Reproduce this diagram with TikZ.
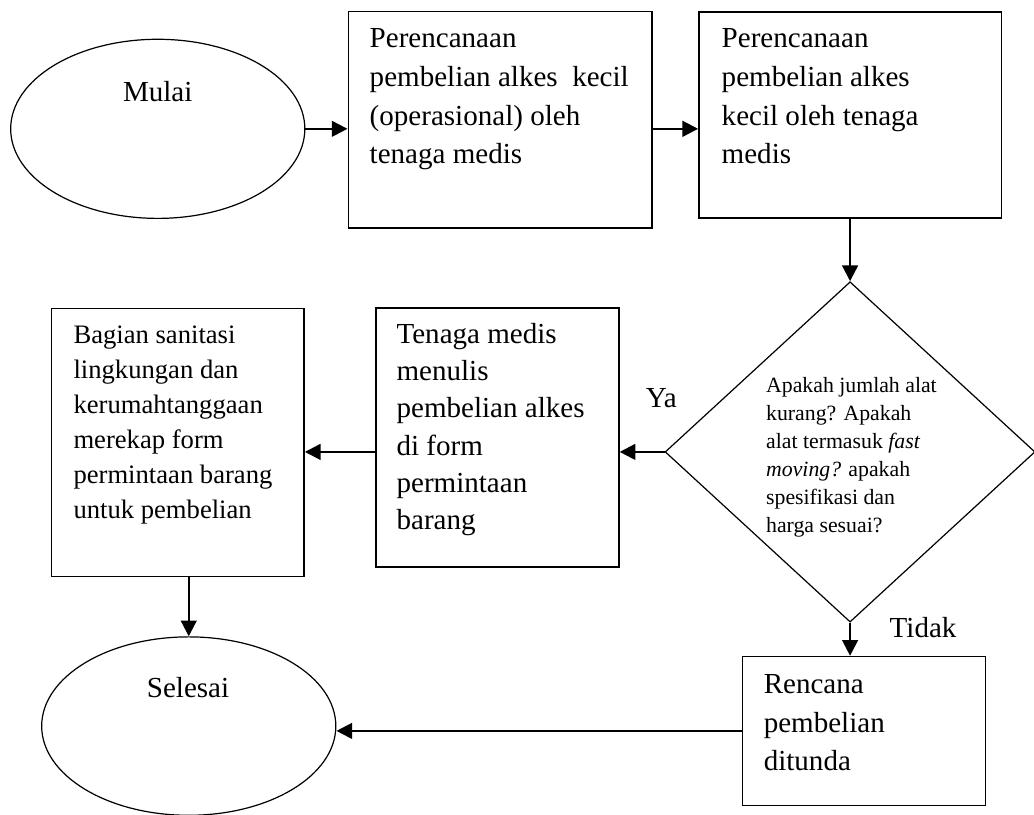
\documentclass[tikz,border=0pt]{standalone}
\usepackage{fontspec}
\setmainfont{Liberation Serif}
\usepackage{tikz}
\usetikzlibrary{shapes.geometric,arrows.meta}

\begin{document}
\begin{tikzpicture}[
            box/.style={draw,line width=0.6pt,rectangle,inner sep=0pt},
            oval/.style={draw,line width=0.5pt,ellipse,inner sep=0pt},
            ask/.style={draw,line width=0.5pt,diamond,inner sep=0pt},
            txt/.style={anchor=base west,align=left,inner sep=0pt,font=\fontsize{12}{16}\selectfont},
            asktxt/.style={align=left,inner sep=0pt,font=\fontsize{9}{11.6}\selectfont},
            lbl/.style={anchor=base,inner sep=0pt,font=\fontsize{12}{14}\selectfont},
            arr/.style={line width=0.9pt,-{Triangle[length=6.5pt,width=6.5pt]}}]
            \useasboundingbox (0,0) rectangle (15.01,-11.82);
            % baris atas (teks: base = baris terakhir)
            \node[oval,minimum width=4.27cm,minimum height=2.60cm] (mulai) at (2.29,-1.87) {};
            \node[lbl] (tmulai) at (2.29,-1.47) {Mulai};
            \node[box,minimum width=4.41cm,minimum height=3.14cm] (b1) at (7.26,-1.74) {};
            \node[txt] (t1) at (5.36,-2.38) {Perencanaan\\pembelian alkes\ \ kecil\\(operasional) oleh\\tenaga medis};
            \node[box,minimum width=4.39cm,minimum height=2.99cm] (b2) at (12.34,-1.67) {};
            \node[txt] (t2) at (10.47,-2.38) {Perencanaan\\pembelian alkes\\kecil oleh tenaga\\medis};
            % keputusan
            \node[ask,minimum width=5.37cm,minimum height=4.94cm] (q) at (12.34,-6.56) {};
            \node[asktxt] (tq) at (12.36,-6.64) {Apakah jumlah alat\\kurang? Apakah\\alat termasuk \textit{fast}\\\textit{moving?} apakah\\spesifikasi dan\\harga sesuai?};
            \node[box,minimum width=3.53cm,minimum height=3.76cm] (b3) at (7.22,-6.35) {};
            \node[txt,font=\fontsize{12}{15.4}\selectfont] (t3) at (5.75,-7.69) {Tenaga medis\\menulis\\pembelian alkes\\di form\\permintaan\\barang};
            \node[box,minimum width=3.67cm,minimum height=3.89cm] (b4) at (2.58,-6.42) {};
            \node[txt,font=\fontsize{11}{14.5}\selectfont] (t4) at (1.06,-7.53) {Bagian sanitasi\\lingkungan dan\\kerumahtanggaan\\merekap form\\permintaan barang\\untuk pembelian};
            % baris bawah
            \node[oval,minimum width=4.27cm,minimum height=2.59cm] (selesai) at (2.74,-10.54) {};
            \node[lbl] (tselesai) at (2.73,-10.12) {Selesai};
            \node[box,minimum width=3.53cm,minimum height=2.16cm] (b5) at (12.54,-10.61) {};
            \node[txt] (t5) at (11.08,-11.19) {Rencana\\pembelian\\ditunda};
            \node[lbl] (ya) at (9.60,-5.92) {Ya};
            \node[lbl] (tidak) at (13.40,-9.26) {Tidak};
            % panah
            \draw[arr] (mulai.east) -- (mulai.east -| b1.west);
            \draw[arr] (mulai.east -| b1.east) -- (mulai.east -| b2.west);
            \draw[arr] (b2.south) -- (q.north);
            \draw[arr] (q.west) -- (q.west -| b3.east);
            \draw[arr] (q.west -| b3.west) -- (q.west -| b4.east);
            \draw[arr] (selesai.north |- b4.south) -- (selesai.north);
            \draw[arr] (q.south) -- (q.south |- b5.north);
            \draw[arr] (b5.west) -- (b5.west -| selesai.east);
        \end{tikzpicture}
\end{document}
